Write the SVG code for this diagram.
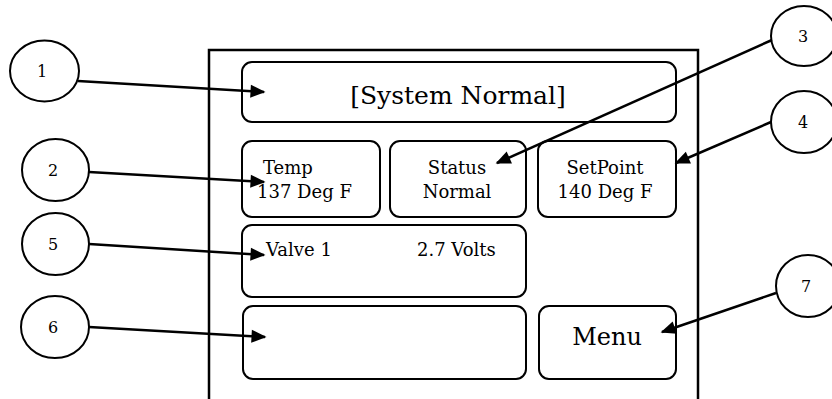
<svg xmlns="http://www.w3.org/2000/svg" width="832" height="399" viewBox="0 0 832 399">
<style>
.box{fill:#fff;stroke:#000;stroke-width:2}
.circ{fill:#fff;stroke:#000;stroke-width:2}
.t{font-family:"DejaVu Serif","Liberation Serif",serif;fill:#000}
.num{font-family:"DejaVu Serif","Liberation Serif",serif;font-size:16px;text-anchor:middle;fill:#000}
.con{stroke:#000;stroke-width:2.5;fill:none;marker-end:url(#ah)}
</style>
<defs>
<marker id="ah" viewBox="0 0 10 10" refX="9" refY="5" markerWidth="15" markerHeight="13" markerUnits="userSpaceOnUse" orient="auto" overflow="visible" preserveAspectRatio="none">
<path d="M0,0 L10,5 L0,10 Z" fill="#000"/>
</marker>
</defs>
<rect width="832" height="399" fill="#fff"/>
<g id="screen"><rect x="209" y="50" width="489" height="360" fill="#fff" stroke="#000" stroke-width="2.5"/></g>
<g id="header"><rect class="box" x="242" y="62" width="434" height="60" rx="10"/><text class="t" x="458" y="104" font-size="25" text-anchor="middle">[System Normal]</text></g>
<g id="temp"><rect class="box" x="242" y="141" width="138" height="76" rx="10"/><text class="t" x="263" y="174" font-size="18">Temp</text><text class="t" x="257" y="198" font-size="18">137 Deg F</text></g>
<g id="status"><rect class="box" x="390" y="141" width="136" height="76" rx="10"/><text class="t" x="457" y="174" font-size="18" text-anchor="middle">Status</text><text class="t" x="457" y="198" font-size="18" text-anchor="middle">Normal</text></g>
<g id="setpoint"><rect class="box" x="538" y="141" width="138" height="76" rx="10"/><text class="t" x="605" y="174" font-size="18" text-anchor="middle">SetPoint</text><text class="t" x="605" y="198" font-size="18" text-anchor="middle">140 Deg F</text></g>
<g id="valve"><rect class="box" x="242" y="225" width="284" height="72" rx="10"/><text class="t" x="266" y="256" font-size="18">Valve 1</text><text class="t" x="417" y="256" font-size="18">2.7 Volts</text></g>
<g id="message"><rect class="box" x="243" y="306" width="283" height="73" rx="10"/></g>
<g id="menu"><rect class="box" x="539" y="306" width="137" height="73" rx="10"/><text class="t" x="607" y="345" font-size="24" text-anchor="middle">Menu</text></g>
<g id="c1"><ellipse class="circ" cx="44.5" cy="71" rx="34.5" ry="30.5"/><text class="num" x="42" y="77">1</text></g>
<g id="c2"><ellipse class="circ" cx="55.5" cy="170" rx="33.5" ry="31"/><text class="num" x="53" y="176">2</text></g>
<g id="c5"><ellipse class="circ" cx="55.5" cy="244" rx="33.5" ry="31"/><text class="num" x="53" y="250">5</text></g>
<g id="c6"><ellipse class="circ" cx="55" cy="327" rx="34" ry="31"/><text class="num" x="53" y="333">6</text></g>
<g id="c3"><ellipse class="circ" cx="804" cy="36" rx="33" ry="30"/><text class="num" x="803" y="42">3</text></g>
<g id="c4"><ellipse class="circ" cx="804" cy="122" rx="33" ry="31"/><text class="num" x="803" y="128">4</text></g>
<g id="c7"><ellipse class="circ" cx="808" cy="286" rx="32" ry="31"/><text class="num" x="806" y="292">7</text></g>
<g id="connectors">
<line class="con" x1="78" y1="81" x2="264" y2="92"/>
<line class="con" x1="89" y1="172" x2="264" y2="182"/>
<line class="con" x1="89" y1="244" x2="264" y2="255"/>
<line class="con" x1="89" y1="327" x2="265" y2="337"/>
<line class="con" x1="772" y1="40" x2="497" y2="163"/>
<line class="con" x1="771" y1="122" x2="676" y2="163"/>
<line class="con" x1="776" y1="293" x2="662" y2="332"/>
</g>
</svg>
